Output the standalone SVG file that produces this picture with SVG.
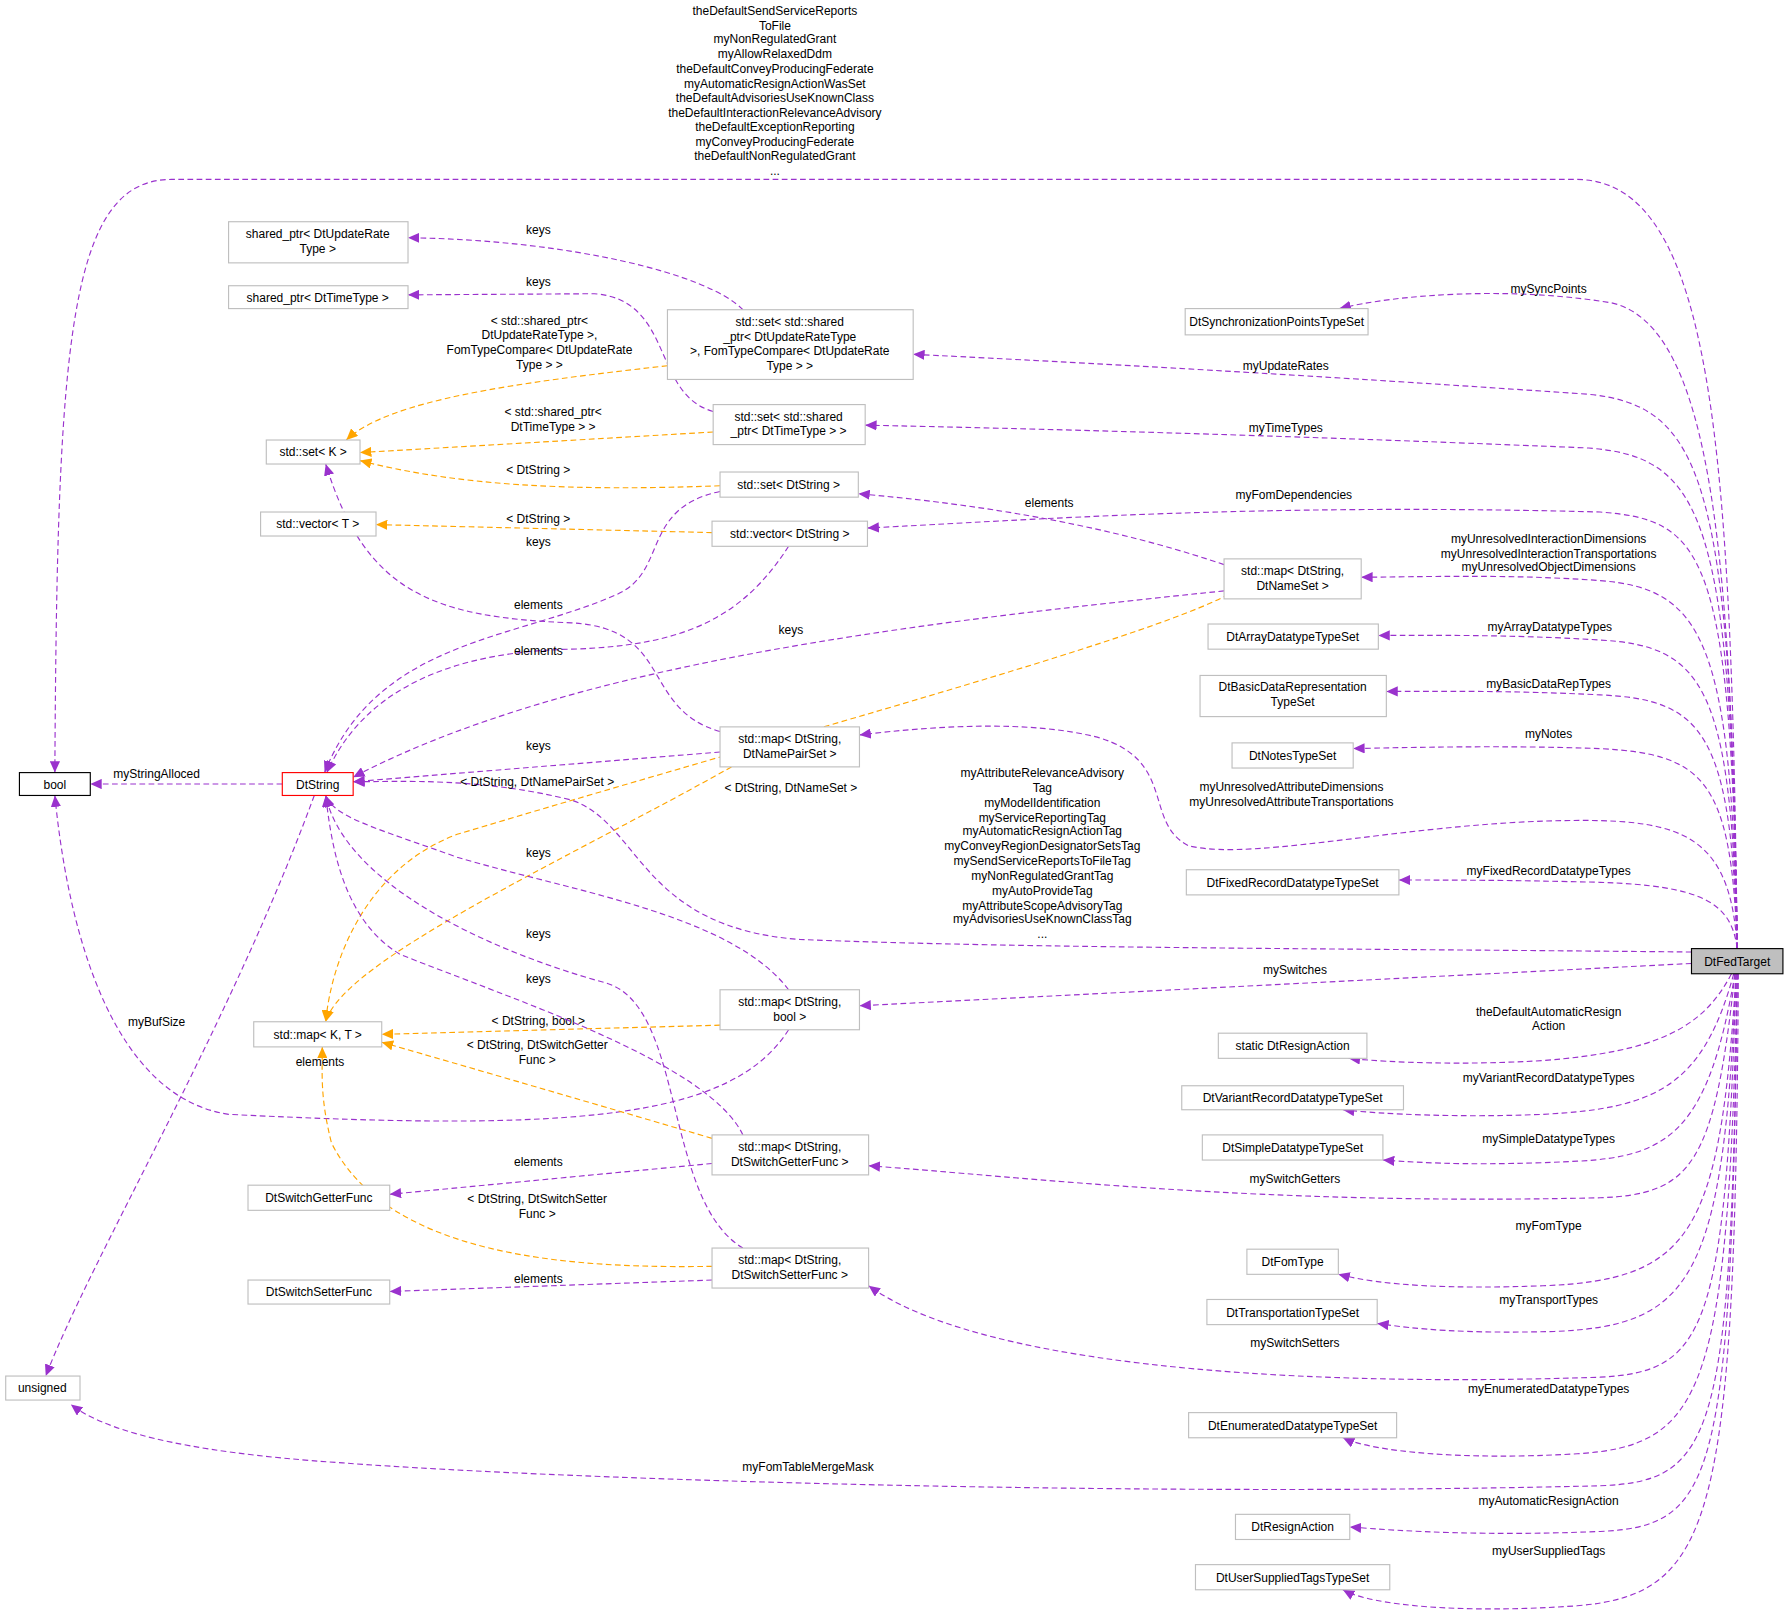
<svg xmlns="http://www.w3.org/2000/svg" width="1792" height="1621" viewBox="0 0 1792 1621">
<style>
text{font-family:"Liberation Sans",Arial,sans-serif;font-size:10.5px;fill:#000;text-anchor:middle}
.n{fill:#fff;stroke:#bfbfbf;stroke-width:1}
.p{fill:none;stroke:#9a32cd;stroke-dasharray:5,3}
.o{fill:none;stroke:#ffa500;stroke-dasharray:5,3}
.p{marker-end:url(#ap)}
.o{marker-end:url(#ao)}
</style>
<defs>
<marker id="ap" markerUnits="userSpaceOnUse" markerWidth="11" markerHeight="9" refX="10" refY="4.5" orient="auto"><path d="M0,0 L10,4.5 L0,9 z" fill="#9a32cd"/></marker>
<marker id="ao" markerUnits="userSpaceOnUse" markerWidth="11" markerHeight="9" refX="10" refY="4.5" orient="auto"><path d="M0,0 L10,4.5 L0,9 z" fill="#ffa500"/></marker>
</defs>
<rect width="1792" height="1621" fill="#fff"/>
<g transform="scale(1.1429)">
<g id="connectors">
<path class="p" d="M1520,830 C1515,400 1500,158 1380,157 L150,157 C60,157 50,300 48,676"/>
<text x="678" y="13">theDefaultSendServiceReports</text><text x="678" y="26">ToFile</text><text x="678" y="38">myNonRegulatedGrant</text><text x="678" y="51">myAllowRelaxedDdm</text><text x="678" y="64">theDefaultConveyProducingFederate</text><text x="678" y="77">myAutomaticResignActionWasSet</text><text x="678" y="89">theDefaultAdvisoriesUseKnownClass</text><text x="678" y="102">theDefaultInteractionRelevanceAdvisory</text><text x="678" y="115">theDefaultExceptionReporting</text><text x="678" y="128">myConveyProducingFederate</text><text x="678" y="140">theDefaultNonRegulatedGrant</text><text x="678" y="153">...</text>
<path class="p" d="M1520,830 C1515,500 1500,285 1410,265 C1320,250 1220,258 1172,270"/><text x="1355" y="256">mySyncPoints</text>
<path class="p" d="M1520,830 C1515,420 1490,355 1390,345 C1100,325 900,315 799,310"/><text x="1125" y="324">myUpdateRates</text>
<path class="p" d="M1520,830 C1515,450 1490,400 1390,392 C1100,380 900,375 757,372"/><text x="1125" y="378">myTimeTypes</text>
<path class="p" d="M1520,830 C1515,480 1490,455 1400,448 C1100,440 900,455 759,462"/><text x="1132" y="437">myFomDependencies</text>
<path class="p" d="M1520,830 C1515,560 1490,515 1400,508 C1320,502 1240,505 1191,505"/><text x="1355" y="475">myUnresolvedInteractionDimensions</text><text x="1355" y="488">myUnresolvedInteractionTransportations</text><text x="1355" y="500">myUnresolvedObjectDimensions</text>
<path class="p" d="M1520,830 C1515,600 1490,565 1400,560 C1320,555 1250,556 1206,556"/><text x="1356" y="552">myArrayDatatypeTypes</text>
<path class="p" d="M1520,830 C1515,640 1490,612 1400,608 C1320,604 1260,605 1213,605"/><text x="1355" y="602">myBasicDataRepTypes</text>
<path class="p" d="M1520,830 C1515,680 1490,660 1400,655 C1320,652 1230,654 1184,655"/><text x="1355" y="646">myNotes</text>
<path class="p" d="M1520,830 C1515,740 1480,720 1400,718 C1250,715 1100,755 1040,740 C1000,720 1030,665 960,645 C900,630 820,635 752,643"/><text x="1130" y="692">myUnresolvedAttributeDimensions</text><text x="1130" y="705">myUnresolvedAttributeTransportations</text>
<path class="p" d="M1520,830 C1515,790 1490,775 1400,772 C1320,770 1270,770 1224,770"/><text x="1355" y="766">myFixedRecordDatatypeTypes</text>
<path class="p" d="M1480,833 C1200,830 900,830 700,822 C560,812 560,720 500,700 C420,680 350,684 309,684"/>
<text x="912" y="680">myAttributeRelevanceAdvisory</text><text x="912" y="693">Tag</text><text x="912" y="706">myModelIdentification</text><text x="912" y="719">myServiceReportingTag</text><text x="912" y="731">myAutomaticResignActionTag</text><text x="912" y="744">myConveyRegionDesignatorSetsTag</text><text x="912" y="757">mySendServiceReportsToFileTag</text><text x="912" y="770">myNonRegulatedGrantTag</text><text x="912" y="783">myAutoProvideTag</text><text x="912" y="796">myAttributeScopeAdvisoryTag</text><text x="912" y="808">myAdvisoriesUseKnownClassTag</text><text x="912" y="821">...</text>
<path class="p" d="M1480,843 L752,880"/><text x="1133" y="852">mySwitches</text>
<path class="p" d="M1515,852 C1490,900 1450,920 1350,928 C1280,932 1220,930 1180,926"/><text x="1355" y="889">theDefaultAutomaticResign</text><text x="1355" y="901">Action</text>
<path class="p" d="M1517,852 C1490,950 1450,970 1350,975 C1280,978 1210,975 1175,971"/><text x="1355" y="947">myVariantRecordDatatypeTypes</text>
<path class="p" d="M1518,852 C1495,990 1460,1012 1380,1016 C1300,1020 1250,1018 1210,1015"/><text x="1355" y="1000">mySimpleDatatypeTypes</text>
<path class="p" d="M1518,852 C1500,1020 1480,1045 1400,1048 C1100,1055 900,1030 760,1020"/><text x="1133" y="1035">mySwitchGetters</text>
<path class="p" d="M1519,852 C1505,1080 1480,1120 1350,1125 C1270,1128 1210,1125 1171,1115"/><text x="1355" y="1076">myFomType</text>
<path class="p" d="M1519,852 C1508,1120 1480,1160 1360,1165 C1280,1167 1240,1163 1205,1158"/><text x="1355" y="1141">myTransportTypes</text>
<path class="p" d="M1519,852 C1510,1170 1490,1200 1400,1205 C1100,1215 850,1190 760,1125"/><text x="1133" y="1179">mySwitchSetters</text>
<path class="p" d="M1520,852 C1512,1220 1490,1265 1380,1272 C1280,1278 1200,1270 1175,1258"/><text x="1355" y="1219">myEnumeratedDatatypeTypes</text>
<path class="p" d="M1520,852 C1515,1260 1500,1296 1400,1300 C1000,1310 500,1295 300,1280 C150,1270 90,1250 62,1229"/><text x="707" y="1287">myFomTableMergeMask</text>
<path class="p" d="M1520,852 C1515,1300 1500,1335 1400,1340 C1300,1344 1230,1340 1181,1336"/><text x="1355" y="1317">myAutomaticResignAction</text>
<path class="p" d="M1521,852 C1518,1330 1500,1395 1380,1405 C1280,1412 1200,1405 1175,1391"/><text x="1355" y="1361">myUserSuppliedTags</text>
<path class="p" d="M650,271 C620,240 500,210 357,208"/><text x="471" y="205">keys</text>
<path class="p" d="M624,360 C570,345 590,262 520,257 L357,258"/><text x="471" y="250">keys</text>
<path class="o" d="M584,320 C450,335 340,350 303,385"/><text x="472" y="284">&lt; std::shared_ptr&lt;</text><text x="472" y="297">DtUpdateRateType &gt;,</text><text x="472" y="310">FomTypeCompare&lt; DtUpdateRate</text><text x="472" y="323">Type &gt; &gt;</text>
<path class="o" d="M624,378 L315,396"/><text x="484" y="364">&lt; std::shared_ptr&lt;</text><text x="484" y="377">DtTimeType &gt; &gt;</text>
<path class="o" d="M630,425 C500,430 400,425 315,403"/><text x="471" y="415">&lt; DtString &gt;</text>
<path class="o" d="M623,466 L329,459"/><text x="471" y="458">&lt; DtString &gt;</text>
<path class="p" d="M630,430 C560,445 585,500 540,520 C450,560 330,560 284,676"/><text x="471" y="478">keys</text>
<path class="p" d="M690,478 C650,540 600,565 500,568 C400,570 320,600 286,676"/><text x="471" y="573">elements</text>
<path class="p" d="M630,640 C560,620 590,550 500,545 C380,540 320,520 285,406"/><text x="471" y="533">elements</text>
<path class="p" d="M1071,494 C1000,470 900,445 751,432"/><text x="918" y="444">elements</text>
<path class="p" d="M1071,517 C800,545 500,580 309,680"/><text x="692" y="555">keys</text>
<path class="p" d="M630,658 L309,684"/><text x="471" y="656">keys</text>
<path class="o" d="M640,671 C500,750 300,840 285,894"/><text x="470" y="688">&lt; DtString, DtNamePairSet &gt;</text>
<path class="o" d="M1075,520 C1000,560 700,640 400,730 C320,760 290,840 285,894"/><text x="692" y="693">&lt; DtString, DtNameSet &gt;</text>
<path class="p" d="M690,866 C640,800 500,780 400,750 C330,725 292,715 285,696"/><text x="471" y="750">keys</text>
<path class="o" d="M630,897 L334,905"/><text x="471" y="897">&lt; DtString, bool &gt;</text>
<path class="p" d="M690,901 C640,980 500,990 200,975 C100,960 60,820 48,696"/><text x="280" y="933">elements</text>
<path class="p" d="M247,686 L79,686"/><text x="137" y="681">myStringAlloced</text>
<path class="p" d="M275,696 C200,900 80,1100 40,1204"/><text x="137" y="898">myBufSize</text>
<path class="p" d="M650,993 C620,930 450,875 350,835 C300,805 290,740 285,696"/><text x="471" y="821">keys</text>
<path class="o" d="M623,996 C500,960 380,925 334,912"/><text x="470" y="918">&lt; DtString, DtSwitchGetter</text><text x="470" y="931">Func &gt;</text>
<path class="p" d="M623,1018 L341,1045"/><text x="471" y="1020">elements</text>
<path class="p" d="M650,1092 C580,1050 600,880 530,860 C420,830 300,770 285,696"/><text x="471" y="860">keys</text>
<path class="o" d="M623,1108 C500,1110 340,1100 290,1000 C280,960 282,940 282,916"/><text x="470" y="1053">&lt; DtString, DtSwitchSetter</text><text x="470" y="1066">Func &gt;</text>
<path class="p" d="M623,1120 L341,1130"/><text x="471" y="1123">elements</text>
</g>
<g id="n_bool"><rect x="17" y="676" width="62" height="20" fill="#fff" stroke="#000"/><text x="48" y="690">bool</text></g>
<g id="n_unsigned"><rect class="n" x="5" y="1204" width="65" height="21"/><text x="37" y="1218">unsigned</text></g>
<g id="n_dtstring"><rect x="247" y="676" width="62" height="20" fill="#fff" stroke="#ff0000"/><text x="278" y="690">DtString</text></g>
<g id="n_sp_ur"><rect class="n" x="200" y="194" width="157" height="36"/><text x="278" y="208">shared_ptr&lt; DtUpdateRate</text><text x="278" y="221">Type &gt;</text></g>
<g id="n_sp_tt"><rect class="n" x="200" y="250" width="157" height="20"/><text x="278" y="264">shared_ptr&lt; DtTimeType &gt;</text></g>
<g id="n_set_ur"><rect class="n" x="584" y="271" width="215" height="61"/><text x="691" y="285">std::set&lt; std::shared</text><text x="691" y="298">_ptr&lt; DtUpdateRateType</text><text x="691" y="311"> &gt;, FomTypeCompare&lt; DtUpdateRate</text><text x="691" y="324">Type &gt; &gt;</text></g>
<g id="n_set_tt"><rect class="n" x="624" y="354" width="133" height="35"/><text x="690" y="368">std::set&lt; std::shared</text><text x="690" y="381">_ptr&lt; DtTimeType &gt; &gt;</text></g>
<g id="n_setK"><rect class="n" x="233" y="385" width="82" height="21"/><text x="274" y="399">std::set&lt; K &gt;</text></g>
<g id="n_set_str"><rect class="n" x="630" y="413" width="121" height="22"/><text x="690" y="428">std::set&lt; DtString &gt;</text></g>
<g id="n_vecT"><rect class="n" x="228" y="448" width="101" height="21"/><text x="278" y="462">std::vector&lt; T &gt;</text></g>
<g id="n_vec_str"><rect class="n" x="623" y="456" width="136" height="22"/><text x="691" y="471">std::vector&lt; DtString &gt;</text></g>
<g id="n_map_ns"><rect class="n" x="1071" y="489" width="120" height="35"/><text x="1131" y="503">std::map&lt; DtString,</text><text x="1131" y="516">DtNameSet &gt;</text></g>
<g id="n_array"><rect class="n" x="1057" y="546" width="149" height="22"/><text x="1131" y="561">DtArrayDatatypeTypeSet</text></g>
<g id="n_basic"><rect class="n" x="1050" y="591" width="163" height="36"/><text x="1131" y="605">DtBasicDataRepresentation</text><text x="1131" y="618">TypeSet</text></g>
<g id="n_notes"><rect class="n" x="1078" y="650" width="106" height="22"/><text x="1131" y="665">DtNotesTypeSet</text></g>
<g id="n_map_nps"><rect class="n" x="630" y="636" width="122" height="35"/><text x="691" y="650">std::map&lt; DtString,</text><text x="691" y="663">DtNamePairSet &gt;</text></g>
<g id="n_fixed"><rect class="n" x="1038" y="761" width="186" height="22"/><text x="1131" y="776">DtFixedRecordDatatypeTypeSet</text></g>
<g id="n_fed"><rect x="1480" y="830" width="80" height="22" fill="#bfbfbf" stroke="#000"/><text x="1520" y="845">DtFedTarget</text></g>
<g id="n_map_bool"><rect class="n" x="630" y="866" width="122" height="35"/><text x="691" y="880">std::map&lt; DtString,</text><text x="691" y="893">bool &gt;</text></g>
<g id="n_mapKT"><rect class="n" x="222" y="894" width="112" height="22"/><text x="278" y="909">std::map&lt; K, T &gt;</text></g>
<g id="n_static_ra"><rect class="n" x="1066" y="904" width="130" height="22"/><text x="1131" y="919">static DtResignAction</text></g>
<g id="n_variant"><rect class="n" x="1034" y="950" width="194" height="21"/><text x="1131" y="964">DtVariantRecordDatatypeTypeSet</text></g>
<g id="n_simple"><rect class="n" x="1052" y="993" width="158" height="22"/><text x="1131" y="1008">DtSimpleDatatypeTypeSet</text></g>
<g id="n_map_get"><rect class="n" x="623" y="993" width="137" height="35"/><text x="691" y="1007">std::map&lt; DtString,</text><text x="691" y="1020">DtSwitchGetterFunc &gt;</text></g>
<g id="n_getter"><rect class="n" x="217" y="1037" width="124" height="22"/><text x="279" y="1052">DtSwitchGetterFunc</text></g>
<g id="n_map_set"><rect class="n" x="623" y="1092" width="137" height="35"/><text x="691" y="1106">std::map&lt; DtString,</text><text x="691" y="1119">DtSwitchSetterFunc &gt;</text></g>
<g id="n_setter"><rect class="n" x="217" y="1120" width="124" height="21"/><text x="279" y="1134">DtSwitchSetterFunc</text></g>
<g id="n_fomtype"><rect class="n" x="1091" y="1093" width="80" height="22"/><text x="1131" y="1108">DtFomType</text></g>
<g id="n_transp"><rect class="n" x="1056" y="1137" width="149" height="22"/><text x="1131" y="1152">DtTransportationTypeSet</text></g>
<g id="n_enum"><rect class="n" x="1040" y="1236" width="182" height="22"/><text x="1131" y="1251">DtEnumeratedDatatypeTypeSet</text></g>
<g id="n_ra"><rect class="n" x="1081" y="1325" width="100" height="22"/><text x="1131" y="1340">DtResignAction</text></g>
<g id="n_ust"><rect class="n" x="1046" y="1369" width="170" height="22"/><text x="1131" y="1384">DtUserSuppliedTagsTypeSet</text></g>
<g id="n_sync"><rect class="n" x="1037" y="270" width="160" height="23"/><text x="1117" y="285">DtSynchronizationPointsTypeSet</text></g>
</g>
</svg>
